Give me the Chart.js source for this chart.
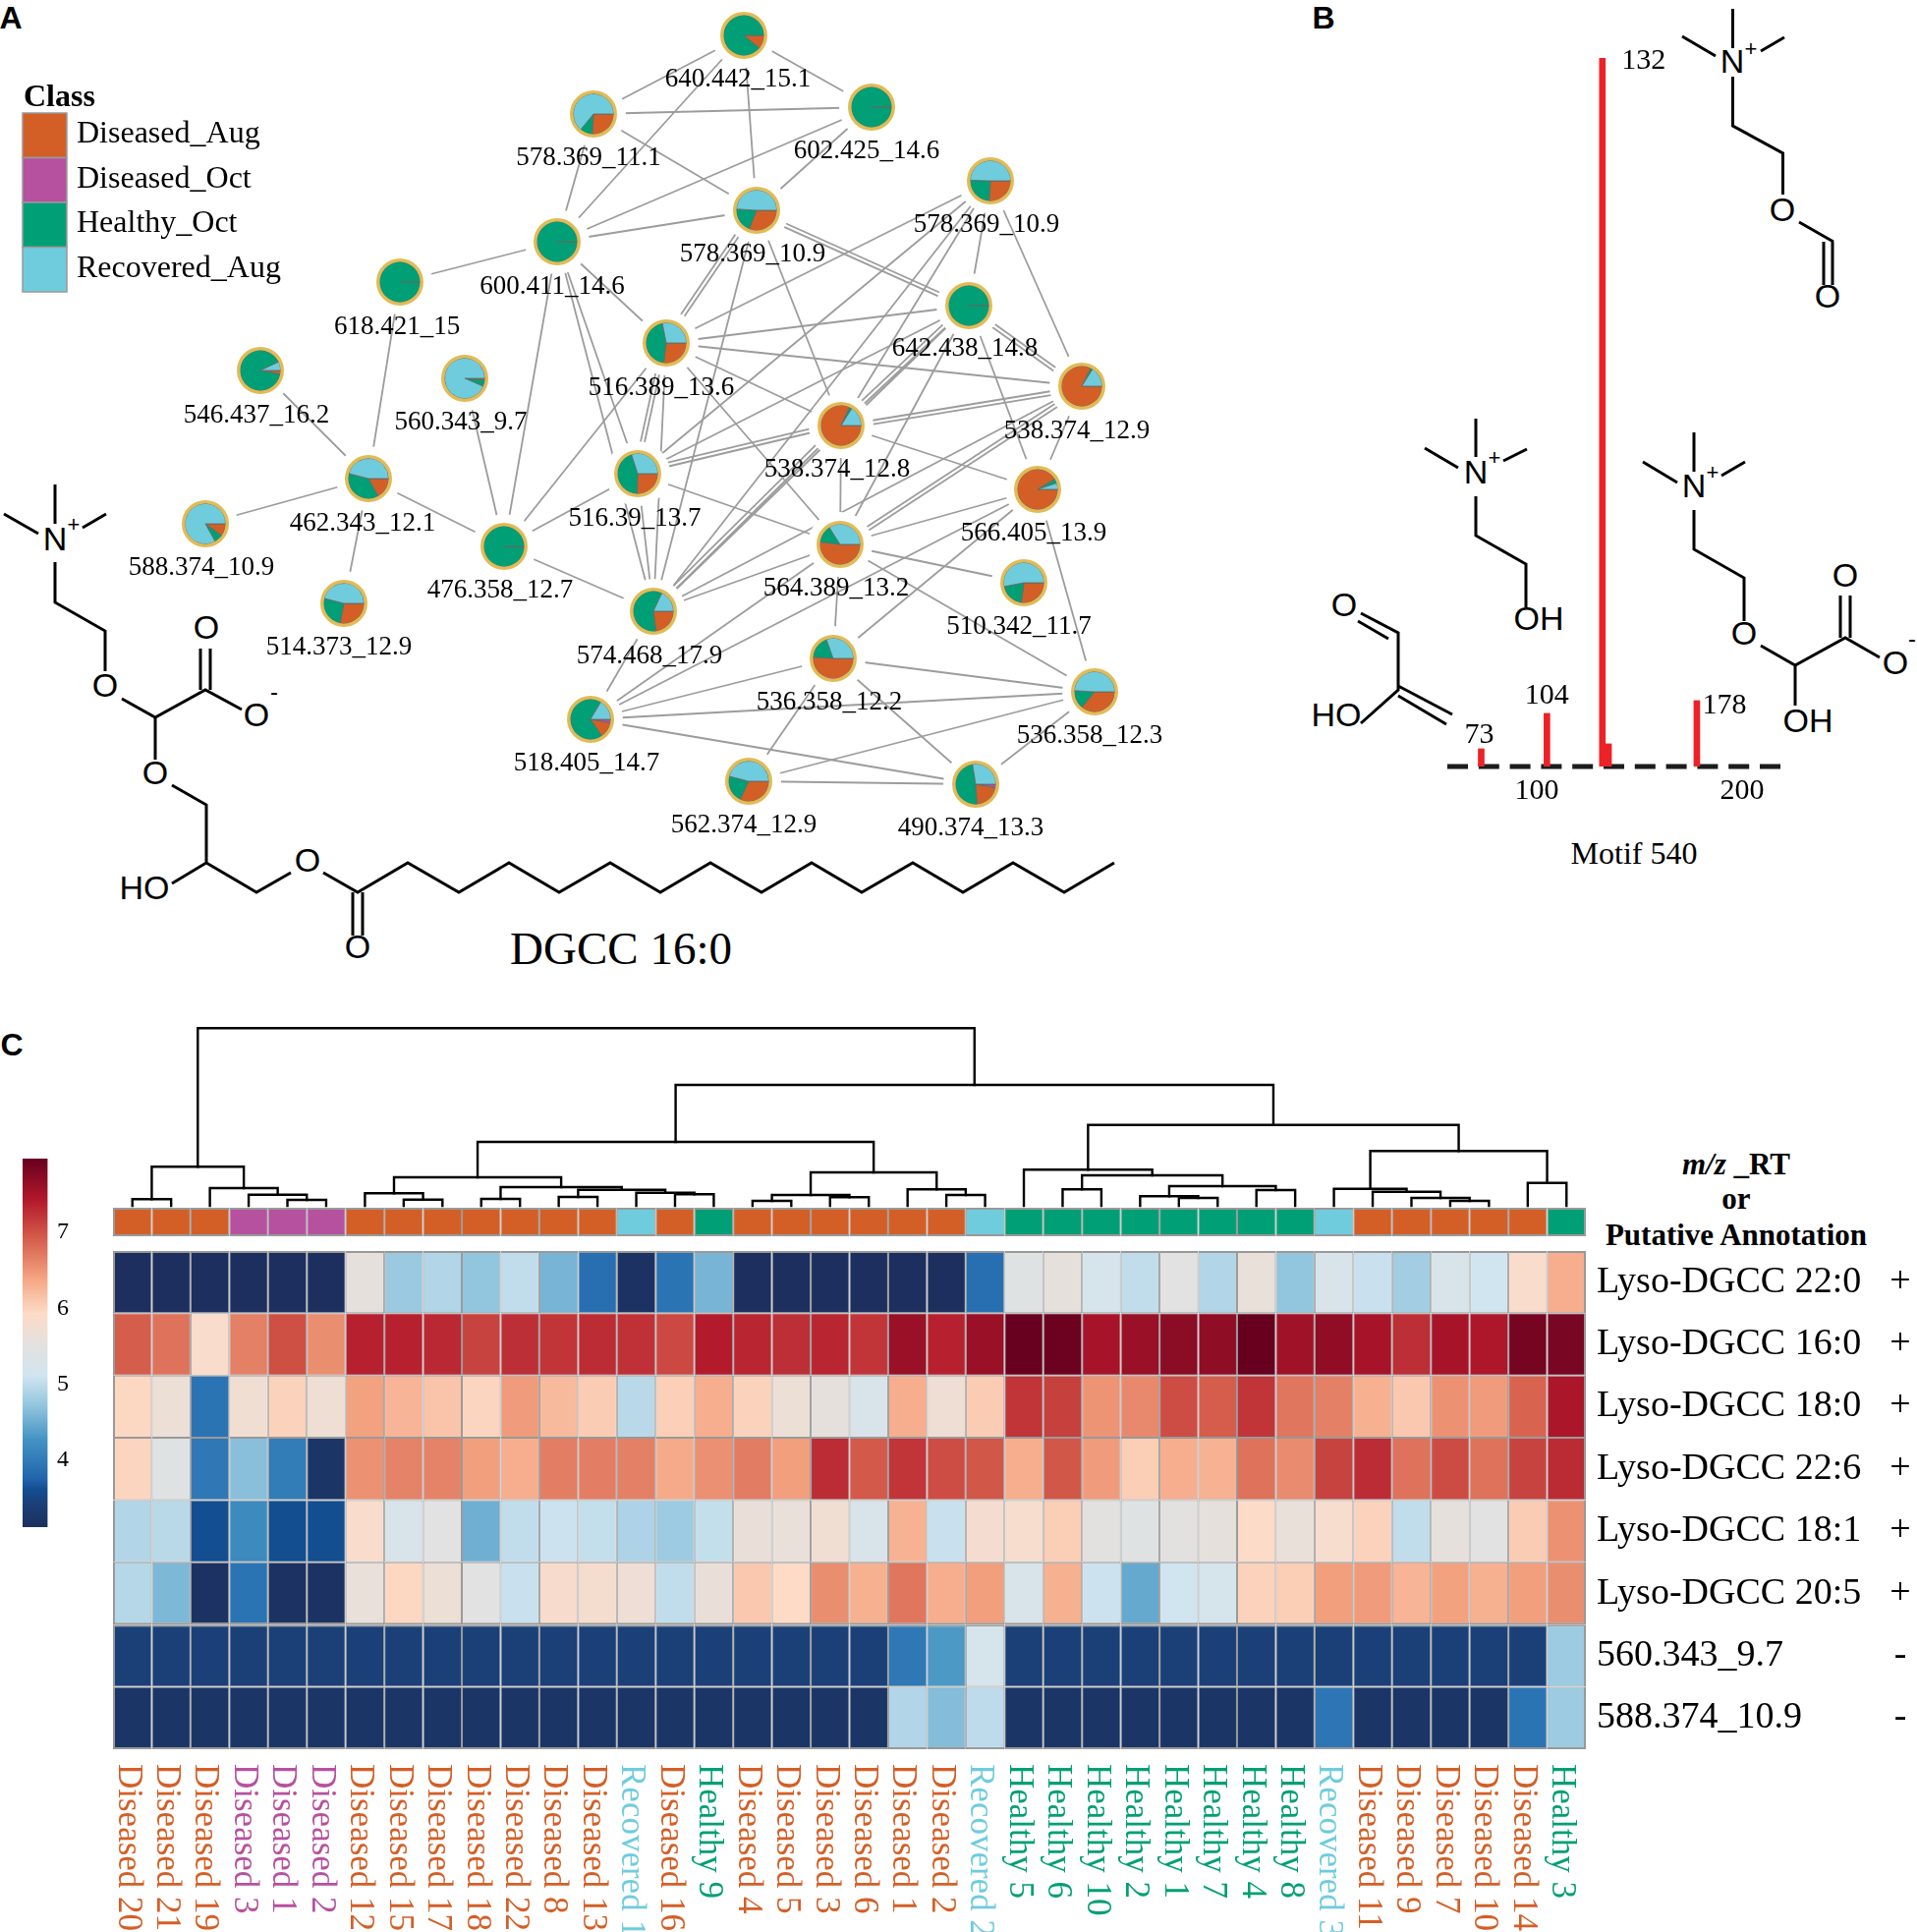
<!DOCTYPE html>
<html>
<head>
<meta charset="utf-8">
<title>Motif 540</title>
<script src="https://cdn.jsdelivr.net/npm/chart.js@4/dist/chart.umd.js"></script>
<style>
  html, body { margin: 0; padding: 0; background: #fff; }
  #page { position: relative; width: 1951px; height: 1966px; overflow: hidden; }
  #page canvas, #page svg { position: absolute; }
  svg text { fill: #000; font-family: "Liberation Sans", Arial, sans-serif; font-size: 34px; text-anchor: middle; dominant-baseline: central; }
  svg path { fill: none; stroke: #000; stroke-width: 3; stroke-linejoin: miter; }
  svg text.serif { font-family: "Liberation Serif", serif; }
  svg text.panel { font-weight: bold; font-size: 32px; }
  svg text.head { font-family: "Liberation Serif", serif; font-weight: bold; font-size: 31px; }
</style>
</head>
<body>
<div id="page">
  <svg width="1951" height="1966" style="left:0;top:0">
    <text class="panel" x="11" y="18">A</text>
    <text class="panel" x="1347" y="18">B</text>
    <text class="panel" x="12" y="1063">C</text>

    <!-- DGCC 16:0 -->
    <path d="M56 493V533M4 523L39 543M84 537L108 523M56 572V613L107 642V683M124 711L158 730L209 702L246 722M204 702V660M214 702V660M158 730V773M175 799L210 819V878L175 899M210 878L261 908L296 888M329 888L364 908L415 878L467 908L518 878L569 908L621 878L672 908L723 878L775 908L826 878L877 908L929 878L980 908L1031 878L1083 908L1134 878M359 908V952M369 908V952"/>
    <text x="56" y="548">N</text><text x="75" y="533" style="font-size:22px">+</text>
    <text x="107" y="697">O</text><text x="210" y="638">O</text><text x="261" y="727">O</text>
    <text x="279" y="703" style="font-size:24px">-</text>
    <text x="158" y="786">O</text><text x="147" y="903">HO</text><text x="313" y="875">O</text><text x="364" y="963">O</text>
    <text class="serif" x="632" y="965" style="font-size:47px">DGCC 16:0</text>

    <!-- fragments of motif 540 -->
    <path d="M1763.5 9V49M1712 37L1746 57M1792 52L1816 38M1763.5 78V128L1814.5 156V198M1831 226L1866 246M1856 246V290M1865 246V290"/>
    <text x="1763" y="62">N</text><text x="1782" y="49" style="font-size:22px">+</text>
    <text x="1814" y="213">O</text><text x="1860" y="301">O</text>

    <path d="M1502 426V465M1450 456L1484 476M1530 469L1554 457M1502 505V545L1553 574V618"/>
    <text x="1502" y="480">N</text><text x="1521" y="465" style="font-size:22px">+</text>
    <text x="1566" y="629">OH</text>

    <path d="M1724 440V480M1672 470L1707 491M1752 484L1776 470M1724 519V559L1775 588V632M1792 657L1827 677L1878 649L1913 669M1873 649V606M1883 649V606M1827 677V718"/>
    <text x="1724" y="494">N</text><text x="1743" y="480" style="font-size:22px">+</text>
    <text x="1775" y="644">O</text><text x="1878" y="585">O</text><text x="1929" y="674">O</text>
    <text x="1946" y="649" style="font-size:24px">-</text>
    <text x="1840" y="733">OH</text>

    <path d="M1382 632L1413 650M1385 624L1423 644V702L1385 736M1423 698L1478 727M1423 708L1472 737"/>
    <text x="1368" y="615">O</text><text x="1360" y="727">HO</text>

    <text class="serif" x="1663" y="868" style="font-size:32px">Motif 540</text>

    <text class="head" x="1767" y="1184"><tspan font-style="italic">m/z</tspan> _RT</text>
    <text class="head" x="1767" y="1219">or</text>
    <text class="head" x="1767" y="1256">Putative Annotation</text>
  </svg>

  <canvas id="networkChart" width="1200" height="900" style="left:0;top:0"></canvas>
  <canvas id="motifChart" width="339" height="802" style="left:1473px;top:30px"></canvas>
  <canvas id="dendroChart" width="1838" height="185" style="left:113px;top:1044px"></canvas>
  <canvas id="heatChart" width="1838" height="739" style="left:113px;top:1227px"></canvas>
  <canvas id="scaleChart" width="70" height="375" style="left:23px;top:1179px"></canvas>
</div>

<script>
'use strict';
const serif = '"Liberation Serif", "Times New Roman", serif';

// Classes
const classNames = ['Diseased_Aug', 'Diseased_Oct', 'Healthy_Oct', 'Recovered_Aug'];
const orangeColor = '#d35f27',
  purpleColor = '#b6519f',
  greenColor = '#019f75',
  cyanColor = '#6fccdd';
const classColors = [orangeColor, purpleColor, greenColor, cyanColor];

// Panel A: molecular network
const nodeNames = ['640.442_15.1', '578.369_11.1', '602.425_14.6', '578.369_10.9', '578.369_10.9', '600.411_14.6', '618.421_15', '642.438_14.8', '516.389_13.6', '546.437_16.2', '560.343_9.7', '538.374_12.9', '538.374_12.8', '516.39_13.7', '566.405_13.9', '462.343_12.1', '476.358_12.7', '588.374_10.9', '564.389_13.2', '510.342_11.7', '574.468_17.9', '514.373_12.9', '536.358_12.2', '536.358_12.3', '518.405_14.7', '562.374_12.9', '490.374_13.3'];
const nodeX = [757, 604, 887, 770, 1008, 567, 407, 986, 678, 265, 473, 1101, 856, 649, 1056, 375, 513, 209, 855, 1042, 665, 350, 848, 1114, 601, 762, 993];
const nodeY = [36, 116, 109, 214, 184, 246, 287, 311, 349, 377, 385, 393, 433, 482, 498, 487, 556, 533, 554, 593, 622, 614, 670, 704, 732, 795, 798];
const labelX = [751, 599, 882, 766, 1004, 562, 404, 982, 673, 261, 469, 1096, 852, 646, 1052, 369, 509, 205, 851, 1037, 661, 345, 844, 1109, 597, 757, 988];
const labelY = [81, 161, 154, 259, 229, 292, 333, 355, 395, 423, 430, 439, 478, 528, 543, 533, 601, 578, 599, 638, 668, 659, 715, 749, 777, 840, 843];
// slice shares, clockwise from 3 o'clock: Diseased_Oct, Diseased_Aug, Healthy_Oct, Recovered_Aug
const shareOct = [0, 0, 0, 0, 0, 0.2, 0, 0, 0, 0, 0, 0, 0, 0, 0, 0, 0.2, 0, 0, 0, 0, 0, 0, 0, 3, 0, 3];
const shareAug = [11, 26, 0.3, 31, 26, 0.3, 0, 0, 27, 3, 1.5, 82.5, 82, 25.5, 91.5, 17, 0.3, 10, 52, 27, 23, 28, 51, 36, 12.5, 32, 21];
const shareHealthy = [89, 10, 99.7, 20, 24.5, 99.5, 100, 100, 45, 90, 5, 1.5, 2, 44.5, 3.5, 37, 99.5, 7, 14, 20, 59, 26, 18.5, 15, 68, 22, 48.5];
const shareRecovered = [0, 64, 0, 49, 49.5, 0, 0, 0, 28, 7, 93.5, 16, 16, 30, 5, 46, 0, 83, 34, 53, 18, 46, 30.5, 49, 16.5, 46, 27.5];
// edges as node index pairs, a repeated pair is a parallel edge
const edgeFrom = [0, 0, 0, 0, 1, 1, 1, 2, 2, 3, 3, 3, 3, 3, 3, 3, 5, 5, 5, 5, 5, 6, 9, 10, 15, 15, 15, 8, 13, 16, 4, 4, 4, 4, 4, 4, 8, 7, 7, 7, 7, 7, 7, 7, 7, 8, 8, 8, 8, 8, 8, 12, 12, 12, 12, 12, 12, 12, 12, 13, 20, 20, 18, 18, 18, 18, 18, 18, 18, 24, 22, 24, 24, 24, 24, 22, 22, 22, 25, 25, 26, 14, 11, 13];
const edgeTo = [1, 2, 3, 5, 2, 3, 5, 3, 5, 5, 7, 7, 8, 8, 20, 12, 6, 8, 13, 16, 20, 15, 15, 16, 16, 17, 21, 16, 16, 20, 7, 11, 8, 13, 20, 12, 7, 13, 20, 12, 12, 18, 11, 11, 14, 11, 12, 13, 13, 20, 18, 13, 13, 11, 11, 14, 18, 20, 20, 18, 18, 11, 11, 11, 14, 19, 23, 22, 24, 14, 14, 20, 22, 23, 26, 23, 25, 26, 23, 26, 23, 23, 14, 20];

// Panel B: motif fragments
const motifMz = [73, 105, 132, 135, 178];
const motifHeight = [2.5, 7.5, 100, 3.2, 9.3];
const peakLabels = ['73', '104', '132', '', '178'];
const peakLabelDx = [-2, 0, 42, 0, 28];
const peakLabelDy = [-14, -18, 3, 0, 5];
const motifTicks = [100, 200];

// Panel C: heatmap, columns in dendrogram order
const sampleLabels = ['Diseased 20', 'Diseased 21', 'Diseased 19', 'Diseased 3', 'Diseased 1', 'Diseased 2', 'Diseased 12', 'Diseased 15', 'Diseased 17', 'Diseased 18', 'Diseased 22', 'Diseased 8', 'Diseased 13', 'Recovered 1', 'Diseased 16', 'Healthy 9', 'Diseased 4', 'Diseased 5', 'Diseased 3', 'Diseased 6', 'Diseased 1', 'Diseased 2', 'Recovered 2', 'Healthy 5', 'Healthy 6', 'Healthy 10', 'Healthy 2', 'Healthy 1', 'Healthy 7', 'Healthy 4', 'Healthy 8', 'Recovered 3', 'Diseased 11', 'Diseased 9', 'Diseased 7', 'Diseased 10', 'Diseased 14', 'Healthy 3'];
const sampleClass = [0, 0, 0, 1, 1, 1, 0, 0, 0, 0, 0, 0, 0, 3, 0, 2, 0, 0, 0, 0, 0, 0, 3, 2, 2, 2, 2, 2, 2, 2, 2, 3, 0, 0, 0, 0, 0, 2];
const rowLabels = ['Lyso-DGCC 22:0', 'Lyso-DGCC 16:0', 'Lyso-DGCC 18:0', 'Lyso-DGCC 22:6', 'Lyso-DGCC 18:1', 'Lyso-DGCC 20:5', '560.343_9.7', '588.374_10.9'];
const rowSigns = ['+', '+', '+', '+', '+', '+', '-', '-'];
const lyso220 = [3.1, 3.1, 3.1, 3.1, 3.1, 3.1, 5.55, 4.75, 4.9, 4.7, 5.0, 4.55, 3.85, 3.15, 3.9, 4.55, 3.1, 3.1, 3.1, 3.1, 3.1, 3.1, 3.85, 5.4, 5.55, 5.2, 5.0, 5.45, 4.9, 5.6, 4.7, 5.25, 5.05, 4.8, 5.25, 5.1, 5.85, 6.3];
const lyso160 = [6.9, 6.75, 5.85, 6.65, 7.0, 6.55, 7.35, 7.35, 7.3, 7.1, 7.25, 7.2, 7.27, 7.23, 7.05, 7.4, 7.32, 7.25, 7.32, 7.2, 7.6, 7.35, 7.6, 7.95, 7.92, 7.5, 7.6, 7.7, 7.67, 7.96, 7.55, 7.66, 7.5, 7.25, 7.5, 7.45, 7.85, 7.83];
const lyso180 = [5.95, 5.65, 3.9, 5.72, 6.0, 5.7, 6.4, 6.25, 6.12, 5.97, 6.45, 6.2, 6.05, 4.95, 6.02, 6.3, 6.0, 5.65, 5.55, 5.25, 6.3, 5.7, 6.05, 7.2, 7.12, 6.5, 6.58, 7.02, 6.9, 7.2, 6.72, 6.65, 6.28, 6.08, 6.52, 6.45, 6.85, 7.47];
const lyso226 = [5.97, 5.4, 3.95, 4.65, 4.0, 3.2, 6.52, 6.63, 6.63, 6.42, 6.3, 6.67, 6.66, 6.65, 6.33, 6.53, 6.68, 6.42, 7.27, 6.93, 7.2, 7.02, 6.95, 6.3, 6.95, 6.45, 6.03, 6.3, 6.27, 6.75, 6.57, 7.1, 7.27, 6.75, 7.03, 6.75, 7.1, 7.28];
const lyso181 = [4.9, 4.95, 3.6, 4.15, 3.6, 3.6, 5.85, 5.25, 5.45, 4.5, 5.0, 5.07, 5.02, 4.88, 4.77, 5.02, 5.62, 5.6, 5.72, 5.25, 6.27, 5.05, 5.77, 5.8, 6.03, 5.47, 5.4, 5.5, 5.55, 5.9, 5.6, 5.8, 6.0, 5.0, 5.55, 5.45, 6.05, 6.52];
const lyso205 = [4.93, 4.58, 3.15, 3.9, 3.15, 3.15, 5.6, 5.95, 5.65, 5.45, 5.05, 5.82, 5.78, 5.68, 5.0, 5.62, 6.08, 5.92, 6.55, 6.28, 6.72, 6.3, 6.42, 5.25, 6.28, 5.07, 4.45, 5.1, 5.2, 6.0, 6.03, 6.42, 6.45, 6.25, 6.4, 6.28, 6.42, 6.55];
const mz560 = [3.4, 3.4, 3.4, 3.4, 3.4, 3.4, 3.4, 3.4, 3.4, 3.4, 3.4, 3.4, 3.4, 3.4, 3.4, 3.4, 3.4, 3.4, 3.4, 3.4, 3.95, 4.3, 5.2, 3.4, 3.4, 3.4, 3.4, 3.4, 3.4, 3.4, 3.4, 3.4, 3.4, 3.4, 3.4, 3.4, 3.4, 4.77];
const mz588 = [3.2, 3.2, 3.2, 3.2, 3.2, 3.2, 3.2, 3.2, 3.2, 3.2, 3.2, 3.2, 3.2, 3.2, 3.2, 3.2, 3.2, 3.2, 3.2, 3.2, 4.9, 4.62, 4.98, 3.2, 3.2, 3.2, 3.2, 3.2, 3.2, 3.2, 3.2, 3.92, 3.2, 3.2, 3.2, 3.2, 3.9, 4.77];
const heatRows = [lyso220, lyso160, lyso180, lyso226, lyso181, lyso205, mz560, mz588];

// Colour scale
const scaleValues = [3.1, 3.4, 3.6, 3.75, 4.25, 4.7, 5.1, 5.5, 5.92, 6.38, 6.88, 7.42, 7.96];
const scaleColors = ['#1c2f5e', '#1a4077', '#124e90', '#2166ac', '#4393c3', '#92c5de', '#d1e5f0', '#e3e1df', '#fddbc7', '#f4a582', '#d6604d', '#b2182b', '#67001f'];
const scaleTicks = [4, 5, 6, 7];

// Dendrogram merges, a negative child -k is merge number k (from 1), otherwise a column
const mergeLeft = [0, 4, 3, 2, -1, 7, 6, 9, 11, 14, 13, -9, -8, -7, 16, 18, -15, 21, 20, -17, -14, 24, 27, 26, 29, -24, -22, 23, 34, 33, 32, 31, 36, -32, -28, -21, -5];
const mergeRight = [1, 5, -2, -3, -4, 8, -6, 10, 12, 15, -10, -11, -12, -13, 17, 19, -16, 22, -18, -19, -20, 25, 28, -23, 30, -25, -26, -27, 35, -29, -30, -31, 37, -33, -34, -35, -36];
const mergeHeight = [6.7, 6, 11.3, 18, 39.7, 6.3, 12.7, 7, 9, 11.7, 13.3, 16.3, 19, 29, 5, 8.7, 11, 11, 16.7, 34, 65, 16.7, 8, 9.7, 16, 20, 31, 36.7, 5, 8, 14.3, 17.3, 23.3, 55.7, 82.3, 123, 180.7];

Chart.defaults.animation = false;
Chart.defaults.responsive = false;
Chart.defaults.events = [];
Chart.defaults.plugins.legend.display = false;
Chart.defaults.plugins.tooltip.enabled = false;

function drawText(ctx, text, x, y, font, color, align) {
  ctx.save();
  ctx.font = font;
  ctx.fillStyle = color || '#000';
  ctx.textAlign = align || 'center';
  ctx.textBaseline = 'middle';
  ctx.fillText(text, x, y);
  ctx.restore();
}

function hexToRgb(hex) {
  return [1, 3, 5].map(i => parseInt(hex.substr(i, 2), 16));
}

function colorFor(value) {
  let i = 0;
  while (i < scaleValues.length - 2 && value > scaleValues[i + 1]) i++;
  const t = Math.min(1, Math.max(0, (value - scaleValues[i]) / (scaleValues[i + 1] - scaleValues[i])));
  const a = hexToRgb(scaleColors[i]), b = hexToRgb(scaleColors[i + 1]);
  return 'rgb(' + a.map((c, k) => Math.round(c + (b[k] - c) * t)).join(',') + ')';
}

// Network
// --------------------------------------------------------------------
const seenEdges = {};
const edgeDatasets = edgeFrom.map((from, i) => {
  const to = edgeTo[i];
  const key = Math.min(from, to) + '-' + Math.max(from, to);
  seenEdges[key] = (seenEdges[key] || 0) + 1;
  const dx = nodeX[to] - nodeX[from], dy = nodeY[to] - nodeY[from];
  const len = Math.hypot(dx, dy);
  const shift = (seenEdges[key] - 1) * 4;
  const ox = -dy / len * shift, oy = dx / len * shift;
  return {
    type: 'scatter',
    showLine: true,
    data: [{ x: nodeX[from] + ox, y: nodeY[from] + oy }, { x: nodeX[to] + ox, y: nodeY[to] + oy }],
    borderColor: '#9c9c9c',
    borderWidth: 1.8,
    pointRadius: 0
  };
});

const networkChart = new Chart(document.getElementById('networkChart'), {
  type: 'scatter',
  data: {
    datasets: [
      {
        // white halo keeps the edges away from the nodes
        data: nodeX.map((x, i) => ({ x: x, y: nodeY[i] })),
        backgroundColor: '#fff',
        borderWidth: 0,
        pointRadius: 33
      }
    ].concat(edgeDatasets)
  },
  options: {
    layout: { padding: 0, autoPadding: false },
    scales: {
      x: { display: false, min: 0, max: 1200 },
      y: { display: false, min: 0, max: 900, reverse: true }
    }
  },
  plugins: [{
    id: 'networkText',
    afterDraw(chart) {
      const ctx = chart.ctx, x = chart.scales.x, y = chart.scales.y;
      nodeNames.forEach((name, i) => {
        drawText(ctx, name, x.getPixelForValue(labelX[i]), y.getPixelForValue(labelY[i]), '27px ' + serif);
      });
      drawText(ctx, 'Class', 24, 100, 'bold 32px ' + serif, '#000', 'left');
      classNames.forEach((name, i) => {
        ctx.fillStyle = classColors[i];
        ctx.strokeStyle = '#999';
        ctx.lineWidth = 1.5;
        ctx.fillRect(23, 115 + i * 45.5, 45, 45.5);
        ctx.strokeRect(23, 115 + i * 45.5, 45, 45.5);
        drawText(ctx, name, 78, 137 + i * 45.5, '32px ' + serif, '#000', 'left');
      });
    }
  }]
});

// one small pie per node, placed through the network scales
nodeNames.forEach((name, i) => {
  const canvas = document.createElement('canvas');
  canvas.width = 48;
  canvas.height = 48;
  canvas.style.left = (networkChart.scales.x.getPixelForValue(nodeX[i]) - 24) + 'px';
  canvas.style.top = (networkChart.scales.y.getPixelForValue(nodeY[i]) - 24) + 'px';
  document.getElementById('page').appendChild(canvas);
  new Chart(canvas, {
    type: 'pie',
    data: {
      datasets: [
        { data: [1], backgroundColor: ['#e2bb55'], borderWidth: 0, weight: 1.3 },
        {
          data: [shareOct[i], shareAug[i], shareHealthy[i], shareRecovered[i]],
          backgroundColor: [purpleColor, orangeColor, greenColor, cyanColor],
          borderColor: '#5f6a66',
          borderWidth: 0.8,
          weight: 8
        }
      ]
    },
    options: {
      rotation: 90,
      layout: { padding: 0 }
    }
  });
});

// Motif spectrum
// --------------------------------------------------------------------
new Chart(document.getElementById('motifChart'), {
  type: 'bar',
  data: {
    datasets: [
      {
        data: motifMz.map((mz, i) => ({ x: mz, y: motifHeight[i] })),
        backgroundColor: '#ec2227',
        barThickness: 6
      },
      {
        type: 'line',
        data: [{ x: 56.5, y: 0 }, { x: 218.7, y: 0 }],
        borderColor: '#1c1c1c',
        borderWidth: 5,
        borderDash: [21, 10.8],
        pointRadius: 0,
        clip: false
      }
    ]
  },
  options: {
    layout: { padding: { top: 29 }, autoPadding: false },
    scales: {
      x: {
        type: 'linear',
        offset: false,
        min: 56.5,
        max: 218.7,
        afterFit(scale) { scale.height = 52; },
        afterBuildTicks(scale) { scale.ticks = motifTicks.map(v => ({ value: v })); },
        grid: { display: false, drawTicks: false },
        border: { display: false },
        ticks: { color: '#000', padding: 7, font: { family: serif, size: 30 } }
      },
      y: { display: false, min: 0, max: 100 }
    }
  },
  plugins: [{
    id: 'peakText',
    afterDraw(chart) {
      peakLabels.forEach((label, i) => {
        drawText(chart.ctx, label,
          chart.scales.x.getPixelForValue(motifMz[i]) + peakLabelDx[i],
          chart.scales.y.getPixelForValue(motifHeight[i]) + peakLabelDy[i],
          '30px ' + serif);
      });
    }
  }]
});

// Dendrogram
// --------------------------------------------------------------------
const mergeCenter = [];
function childX(ref) { return ref < 0 ? mergeCenter[-ref - 1] : ref + 0.5; }
function childH(ref) { return ref < 0 ? mergeHeight[-ref - 1] : 0; }
const dendroDatasets = mergeHeight.map((h, i) => {
  const xa = childX(mergeLeft[i]), xb = childX(mergeRight[i]);
  mergeCenter[i] = (xa + xb) / 2;
  return {
    showLine: true,
    data: [
      { x: xa, y: childH(mergeLeft[i]) },
      { x: xa, y: h },
      { x: xb, y: h },
      { x: xb, y: childH(mergeRight[i]) }
    ],
    borderColor: '#000',
    borderWidth: 2.4,
    borderCapStyle: 'square',
    pointRadius: 0,
    clip: false
  };
});

new Chart(document.getElementById('dendroChart'), {
  type: 'scatter',
  data: { datasets: dendroDatasets },
  options: {
    layout: { padding: { left: 2, right: 337, top: 2, bottom: 2 }, autoPadding: false },
    scales: {
      x: { type: 'linear', display: false, min: 0, max: sampleLabels.length },
      y: { display: false, min: 0, max: 181 }
    }
  }
});

// Heatmap
// --------------------------------------------------------------------
const lastColumn = sampleLabels.length - 1;
const heatDatasets = heatRows.map((row, r) => ({
  data: row.map(() => [heatRows.length - 1 - r, heatRows.length - r]),
  backgroundColor: row.map(colorFor),
  borderColor: '#999',
  borderSkipped: false,
  inflateAmount: 0,
  borderWidth: ctx => ({
    left: ctx.dataIndex === 0 ? 2 : 1,
    right: ctx.dataIndex === lastColumn ? 2 : 1,
    top: r === 0 || r === 6 ? 2 : 1,
    bottom: r === 5 || r === 7 ? 2 : 1
  })
}));
heatDatasets.push({
  data: sampleClass.map(() => [8.236, 8.694]),
  backgroundColor: sampleClass.map(c => classColors[c]),
  borderColor: '#999',
  borderSkipped: false,
  inflateAmount: 0,
  borderWidth: ctx => ({
    left: ctx.dataIndex === 0 ? 2 : 1,
    right: ctx.dataIndex === lastColumn ? 2 : 1,
    top: 2,
    bottom: 2
  })
});

new Chart(document.getElementById('heatChart'), {
  type: 'bar',
  data: { labels: sampleLabels, datasets: heatDatasets },
  options: {
    layout: { padding: { left: 2, right: 337, top: 2, bottom: 186 } },
    datasets: { bar: { barPercentage: 1, categoryPercentage: 1, grouped: false } },
    scales: {
      x: { display: false },
      y: { display: false, min: 0, max: 8.694 }
    }
  },
  plugins: [{
    id: 'heatText',
    afterDraw(chart) {
      const ctx = chart.ctx, x = chart.scales.x, y = chart.scales.y;
      const bottom = y.getPixelForValue(0);
      sampleLabels.forEach((label, i) => {
        ctx.save();
        ctx.translate(x.getPixelForValue(i) - 5, bottom + 15);
        ctx.rotate(Math.PI / 2);
        drawText(ctx, label, 0, 0, '35px ' + serif, classColors[sampleClass[i]], 'left');
        ctx.restore();
      });
      rowLabels.forEach((label, r) => {
        const py = y.getPixelForValue(heatRows.length - r - 0.5);
        drawText(ctx, label, chart.chartArea.right + 11, py, '38px ' + serif, '#000', 'left');
        drawText(ctx, rowSigns[r], 1821, py, '38px ' + serif);
      });
    }
  }]
});

// Colour key
// --------------------------------------------------------------------
new Chart(document.getElementById('scaleChart'), {
  type: 'bar',
  data: {
    labels: ['key'],
    datasets: [{
      data: [[scaleValues[0], scaleValues[scaleValues.length - 1]]],
      borderWidth: 0,
      barPercentage: 1,
      categoryPercentage: 1,
      backgroundColor(context) {
        const chart = context.chart, y = chart.scales.y;
        if (!chart.chartArea) return scaleColors[0];
        const low = y.getPixelForValue(y.min), high = y.getPixelForValue(y.max);
        const gradient = chart.ctx.createLinearGradient(0, low, 0, high);
        scaleValues.forEach((v, i) => {
          gradient.addColorStop((v - y.min) / (y.max - y.min), scaleColors[i]);
        });
        return gradient;
      }
    }]
  },
  options: {
    layout: { padding: { right: 44.5 } },
    scales: {
      x: { display: false },
      y: { display: false, min: scaleValues[0], max: scaleValues[scaleValues.length - 1] }
    }
  },
  plugins: [{
    id: 'keyText',
    afterDraw(chart) {
      scaleTicks.forEach(t => {
        drawText(chart.ctx, String(t), 41, chart.scales.y.getPixelForValue(t) + 1, '24px ' + serif);
      });
    }
  }]
});
</script>
</body>
</html>
